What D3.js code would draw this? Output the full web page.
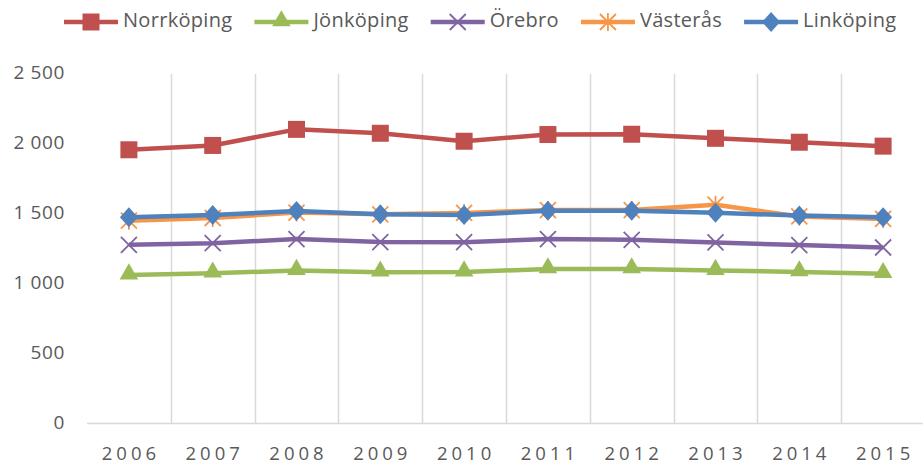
<!DOCTYPE html>
<html>
<head>
<meta charset="utf-8">
<script src="https://cdn.jsdelivr.net/npm/d3@7"></script>
<style>
  body { margin: 0; background: #fff; }
  text { font-family: 'Open Sans', sans-serif; fill: #595959; }
</style>
</head>
<body>
<div id="chart"></div>
<script>
var years = ['2006', '2007', '2008', '2009', '2010', '2011', '2012', '2013', '2014', '2015'];
var yTicks = [0, 500, 1000, 1500, 2000, 2500];

var norrkoping = [1958, 1989, 2104, 2076, 2019, 2067, 2069, 2040, 2012, 1984];
var jonkoping = [1062, 1075, 1094, 1082, 1083, 1106, 1106, 1094, 1084, 1072];
var orebro = [1278, 1290, 1319, 1298, 1297, 1319, 1314, 1295, 1276, 1259];
var vasteras = [1451, 1470, 1509, 1496, 1506, 1527, 1527, 1565, 1481, 1463];
var linkoping = [1475, 1491, 1520, 1496, 1491, 1522, 1522, 1508, 1487, 1475];

var series = [
    { name: 'Norrköping', values: norrkoping, color: '#C0504D', marker: 'square' },
    { name: 'Jönköping', values: jonkoping, color: '#9BBB59', marker: 'triangle' },
    { name: 'Örebro', values: orebro, color: '#8064A2', marker: 'x' },
    { name: 'Västerås', values: vasteras, color: '#F79646', marker: 'star' },
    { name: 'Linköping', values: linkoping, color: '#4F81BD', marker: 'diamond' }
];

const width = 923;
const height = 466;

var svg = d3.select('#chart')
    .append('svg')
    .attr('width', width)
    .attr('height', height);

var x = d3.scaleBand()
    .domain(years)
    .range([87, 925]);

var y = d3.scaleLinear()
    .domain([0, 2500])
    .range([423.5, 74]);

// vertical gridlines between categories
svg.selectAll('.grid')
    .data(years.slice(1))
    .enter()
    .append('line')
    .attr('x1', d => Math.round(x(d)) + 0.5)
    .attr('x2', d => Math.round(x(d)) + 0.5)
    .attr('y1', y(2500))
    .attr('y2', y(0))
    .attr('stroke', '#d9d9d9')
    .attr('stroke-width', 1.5);

svg.append('line')
    .attr('x1', 87)
    .attr('x2', 925)
    .attr('y1', y(0))
    .attr('y2', y(0))
    .attr('stroke', '#d9d9d9')
    .attr('stroke-width', 1.5);

// y labels
svg.selectAll('.ylab')
    .data(yTicks)
    .enter()
    .append('text')
    .attr('x', 65)
    .attr('y', d => y(d))
    .attr('dominant-baseline', 'middle')
    .attr('text-anchor', 'end')
    .attr('font-size', '19px')
    .attr('letter-spacing', '0.6px')
    .text(d => d3.format(',')(d).replace(',', ' '));

// x labels
svg.selectAll('.xlab')
    .data(years)
    .enter()
    .append('text')
    .attr('x', d => x(d) + x.bandwidth() / 2 + 2)
    .attr('y', 455)
    .attr('dominant-baseline', 'middle')
    .attr('text-anchor', 'middle')
    .attr('font-size', '18.5px')
    .attr('letter-spacing', '4px')
    .text(d => d);

function drawMarker(g, type, color, cx, cy) {
    if (type == 'square') {
        g.append('rect')
            .attr('x', cx - 8.5).attr('y', cy - 8.5)
            .attr('width', 17).attr('height', 17)
            .attr('fill', color);
    } else if (type == 'triangle') {
        g.append('path')
            .attr('d', d3.symbol().type(d3.symbolTriangle).size(150)())
            .attr('transform', 'translate(' + cx + ',' + (cy - 1) + ')')
            .attr('fill', color);
    } else if (type == 'diamond') {
        g.append('path')
            .attr('d', 'M0,-10L9,0L0,10L-9,0Z')
            .attr('transform', 'translate(' + cx + ',' + cy + ')')
            .attr('fill', color);
    } else if (type == 'x') {
        g.append('path')
            .attr('d', 'M-8,-8L8,8M-8,8L8,-8')
            .attr('transform', 'translate(' + cx + ',' + cy + ')')
            .attr('stroke', color)
            .attr('stroke-width', 1.8)
            .attr('fill', 'none');
    } else if (type == 'star') {
        g.append('path')
            .attr('d', 'M-8,-8L8,8M-8,8L8,-8M0,-9L0,9')
            .attr('transform', 'translate(' + cx + ',' + cy + ')')
            .attr('stroke', color)
            .attr('stroke-width', 1.8)
            .attr('fill', 'none');
    }
}

var line = d3.line()
    .x((d, i) => x(years[i]) + x.bandwidth() / 2)
    .y(d => y(d));

series.forEach(function(s) {
    var g = svg.append('g');
    g.append('path')
        .attr('d', line(s.values))
        .attr('fill', 'none')
        .attr('stroke', s.color)
        .attr('stroke-width', 4.5)
        .attr('stroke-linejoin', 'round');
    s.values.forEach(function(v, i) {
        drawMarker(g, s.marker, s.color, x(years[i]) + x.bandwidth() / 2, y(v));
    });
});

// legend
var lx = 64;
series.forEach(function(s) {
    var g = svg.append('g');
    g.append('line')
        .attr('x1', lx).attr('x2', lx + 54)
        .attr('y1', 22).attr('y2', 22)
        .attr('stroke', s.color)
        .attr('stroke-width', 4.5);
    drawMarker(g, s.marker, s.color, lx + 27, 22);
    var t = g.append('text')
        .attr('x', lx + 59)
        .attr('y', 22)
        .attr('dominant-baseline', 'middle')
        .attr('font-size', '20px')
        .attr('letter-spacing', '0.3px')
        .text(s.name);
    lx = lx + 59 + t.node().getComputedTextLength() + 22;
});
</script>
</body>
</html>
